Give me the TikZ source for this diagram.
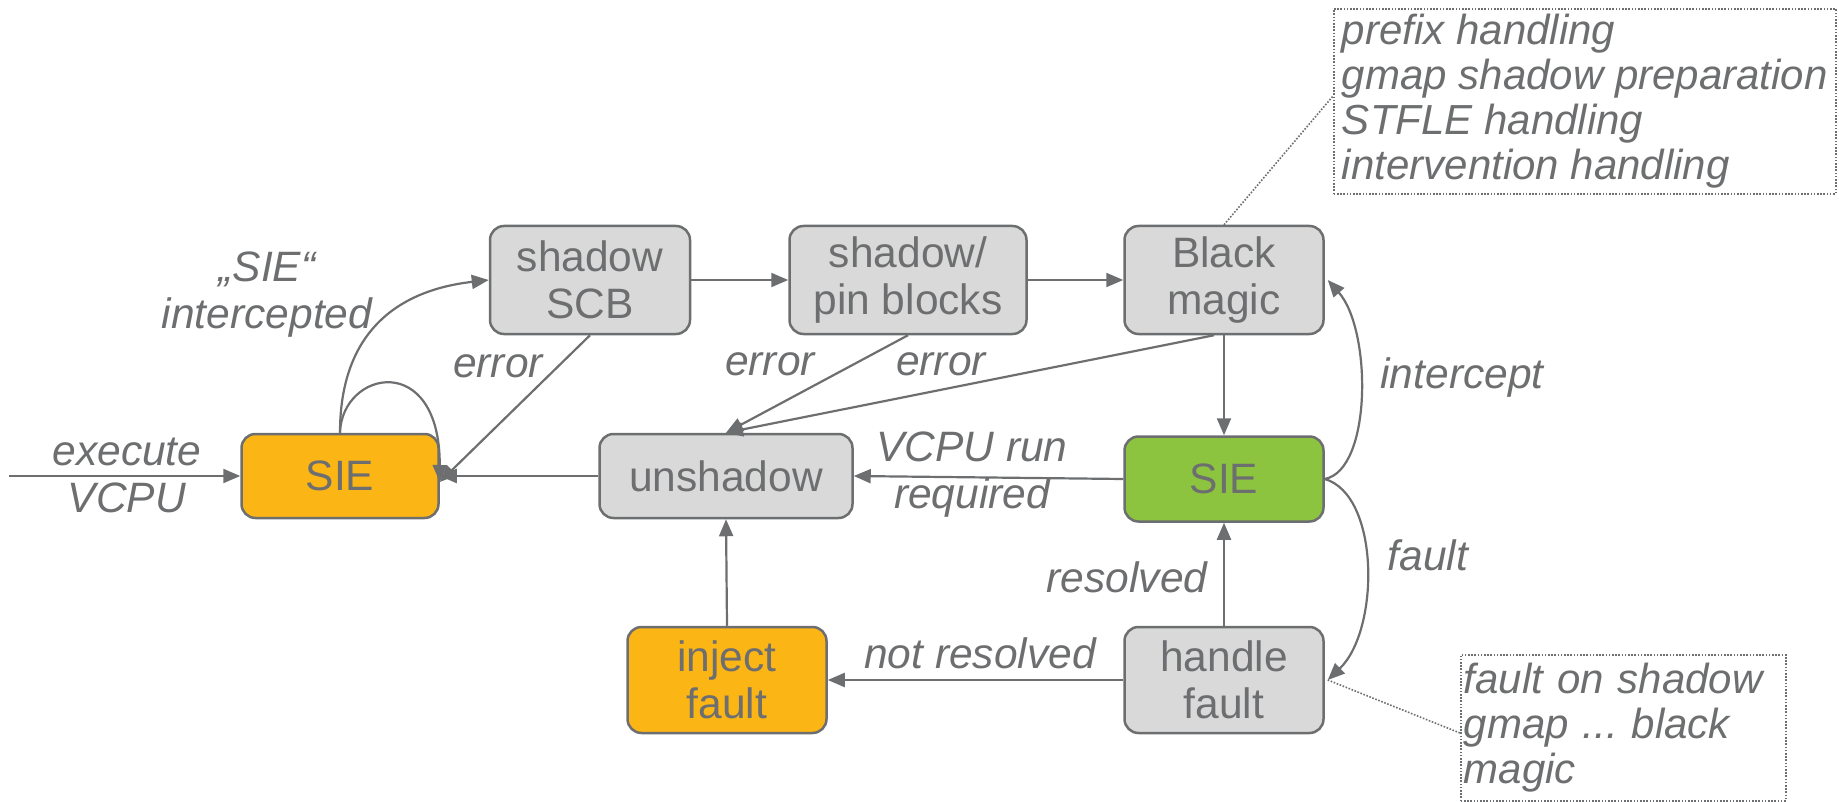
\documentclass[tikz,border=0pt]{standalone}
\usepackage{fontspec}
\setmainfont{Liberation Sans}
\usetikzlibrary{arrows.meta}
\definecolor{ink}{HTML}{6D6E70}
\definecolor{boxgray}{HTML}{D9D9D9}
\definecolor{sieorange}{HTML}{FBB515}
\definecolor{siegreen}{HTML}{8CC43F}
\begin{document}
\begin{tikzpicture}[x=1pt,y=-1pt,
  every node/.style={text=ink},
  state/.style={draw=ink, line width=2.5pt, rounded corners=14pt, fill=boxgray,
    align=center, inner sep=0pt, minimum width=199pt, minimum height=85pt,
    font=\fontsize{42.5}{47}\selectfont},
  lab/.style={font=\itshape\fontsize{42.5}{47}\selectfont, align=center, inner sep=0pt},
  conn/.style={draw=ink, line width=2.2pt, -{Triangle[length=17pt,width=14pt]}},
  note/.style={draw=ink, line width=1.6pt, dash pattern=on 1.6pt off 1.6pt,
    inner xsep=2pt, inner ysep=0pt, align=left, anchor=north west},
  noteline/.style={draw=ink, line width=1.6pt, dash pattern=on 1.6pt off 1.6pt}]
\useasboundingbox (0,0) rectangle (1839,802);

% states
\node[state, fill=sieorange, minimum width=197pt, minimum height=84pt] (sieL) at (340,476) {SIE};
\node[state, minimum width=200pt, minimum height=108pt] (scb) at (590,280) {shadow\\SCB};
\node[state, minimum width=237pt, minimum height=108pt] (pin) at (908,280) {shadow/\\pin blocks};
\node[state, minimum height=108pt] (bm) at (1224,280) {Black\\magic};
\node[state, minimum width=253pt, minimum height=84pt] (unsh) at (726,476) {unshadow};
\node[state, fill=siegreen] (sieR) at (1224,479) {SIE};
\node[state, fill=sieorange, minimum height=106pt] (inj) at (727,680) {inject\\fault};
\node[state, minimum height=106pt] (hf) at (1224,680) {handle\\fault};

% notes
\node[note, minimum width=502pt, minimum height=185pt,
  font=\itshape\fontsize{42}{45}\selectfont] (n1) at (1333,8)
  {prefix handling\\gmap shadow preparation\\STFLE handling\\intervention handling};
\node[note, minimum width=325pt, minimum height=146pt, text width=319pt,
  font=\itshape\fontsize{42}{45}\selectfont] (n2) at (1460,654)
  {fault on shadow\\gmap ...\ black\\magic};

% entry
\coordinate (entry) at (9,476);
\draw[conn] (entry) -- (sieL.west);

% transitions
\draw[conn] (sieL.north) .. controls (340,330) and (400,290) .. (scb.west);
\draw[conn] (sieL.north) .. controls (342,370) and (440,350) .. ([yshift=-6pt]sieL.east);
\draw[conn] (scb.south) -- ([yshift=-6pt]sieL.east);
\draw[conn] (scb.east) -- (pin.west);
\draw[conn] (pin.east) -- (bm.west);
\draw[conn] (pin.south) -- (unsh.north);
\draw[conn] ([xshift=-10pt]bm.south) -- (unsh.north);
\draw[conn] (bm.south) -- (sieR.north);
\draw[conn] (unsh.west) -- (sieL.east);
\draw[conn] (sieR.west) -- (unsh.east);
\draw[conn] (sieR.east) .. controls (1372,470) and (1372,330) .. ([xshift=3pt]bm.east);
\draw[conn] (sieR.east) .. controls (1380,495) and (1380,630) .. ([xshift=3pt]hf.east);
\draw[conn] (hf.north) -- (sieR.south);
\draw[conn] (hf.west) -- (inj.east);
\draw[conn] (inj.north) -- (unsh.south);

% note leaders
\draw[noteline] (bm.north) -- (n1.west |- 0,96);
\draw[noteline] ([xshift=3pt]hf.east) -- (n2.west |- 0,733);

% transition labels
\node[lab] (lExec) at (127,475) {execute\\VCPU};
\node[lab] (lSie) at (267,295) {„SIE“\\intercepted};
\node[lab] (lErr1) at (498,366) {error};
\node[lab] (lErr2) at (770,364) {error};
\node[lab] (lErr3) at (941,364) {error};
\node[lab] (lRun) at (972,475) {VCPU run\\required};
\node[lab] (lInt) at (1462,378) {intercept};
\node[lab] (lFault) at (1428,555) {fault};
\node[lab] (lRes) at (1127,577) {resolved};
\node[lab] (lNot) at (980,653) {not resolved};
\end{tikzpicture}
\end{document}
